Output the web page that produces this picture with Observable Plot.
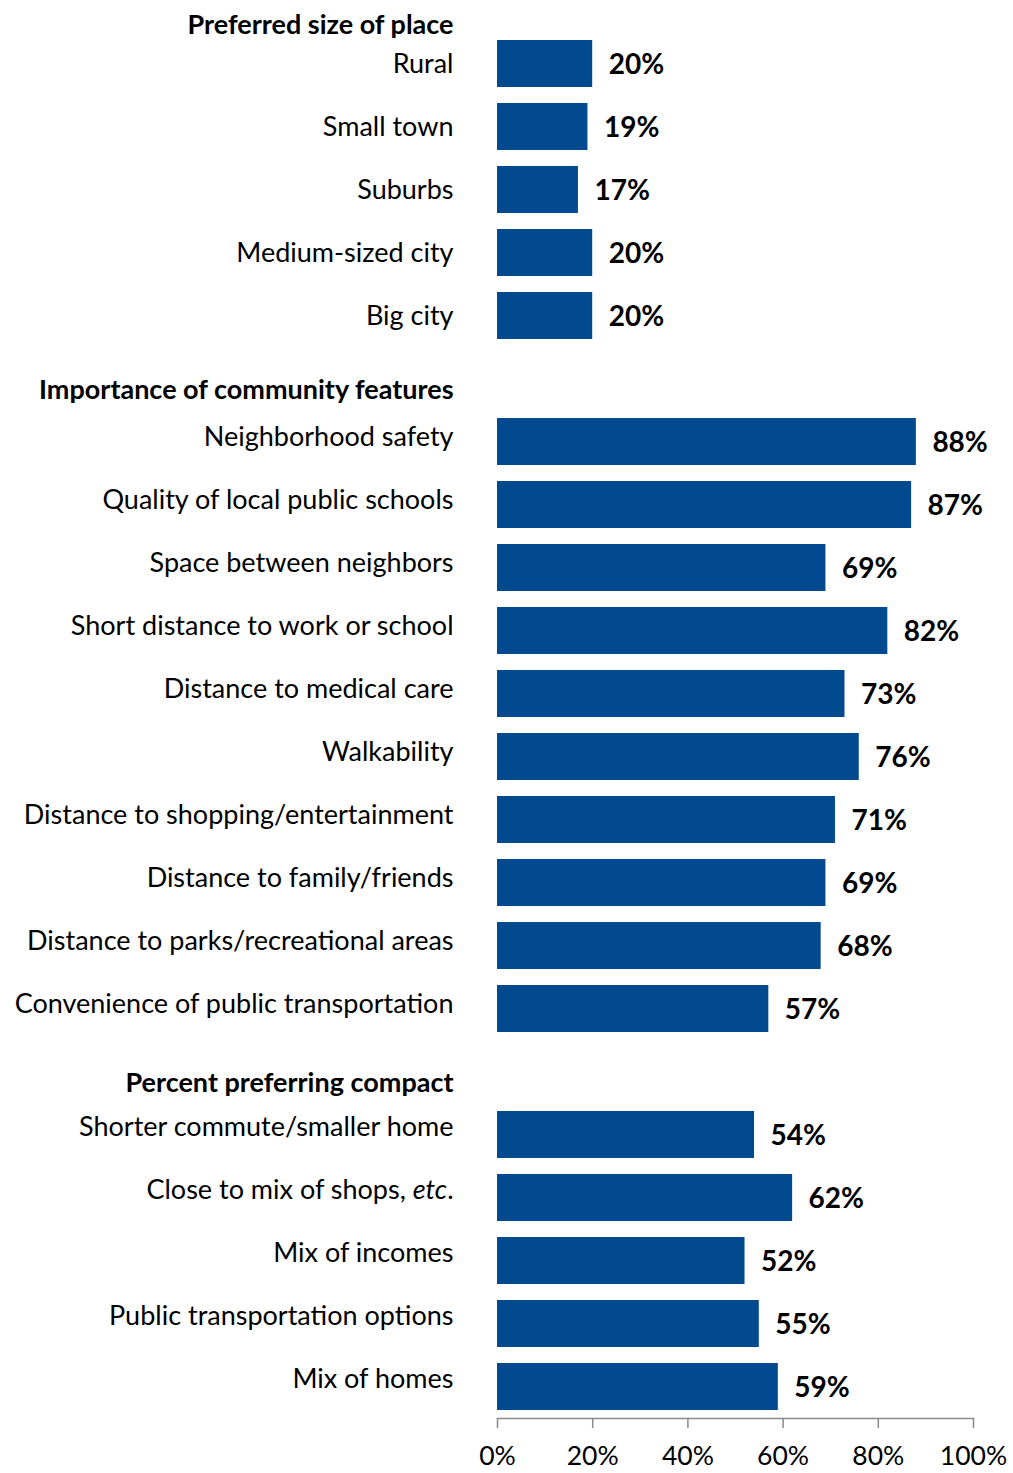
<!DOCTYPE html>
<html><head><meta charset="utf-8">
<script src="https://cdn.jsdelivr.net/npm/d3@7"></script>
<script src="https://cdn.jsdelivr.net/npm/@observablehq/plot@0.6"></script>
<style>body{margin:0;background:#fff}svg{display:block}</style>
</head><body><div id="chart"></div>
<script>
const groupTitles = ["Preferred size of place", "Importance of community features", "Percent preferring compact"];
const placeCategories = ["Rural", "Small town", "Suburbs", "Medium-sized city", "Big city"];
const placeValues = [20, 19, 17, 20, 20];
const featureCategories = ["Neighborhood safety", "Quality of local public schools", "Space between neighbors", "Short distance to work or school", "Distance to medical care", "Walkability", "Distance to shopping/entertainment", "Distance to family/friends", "Distance to parks/recreational areas", "Convenience of public transportation"];
const featureValues = [88, 87, 69, 82, 73, 76, 71, 69, 68, 57];
const compactCategories = ["Shorter commute/smaller home", "Close to mix of shops, etc.", "Mix of incomes", "Public transportation options", "Mix of homes"];
const compactValues = [54, 62, 52, 55, 59];
const xTicks = [0, 20, 40, 60, 80, 100];

const groups = [
  {title: groupTitles[0], cats: placeCategories, vals: placeValues},
  {title: groupTitles[1], cats: featureCategories, vals: featureValues},
  {title: groupTitles[2], cats: compactCategories, vals: compactValues}
];
const rows = groups.flatMap((g, gi) => g.cats.map((c, i) => ({group: gi, category: c, value: g.vals[i]})));
const domain = [];
groups.forEach((g, gi) => { if (gi > 0) domain.push("gap" + gi); domain.push(...g.cats); });
const headers = groups.map((g, gi) => ({group: gi, title: g.title, first: g.cats[0]}));

const FONT = "Lato";
const FS = 27;
const VFS = 28;
const TFS = 26.5;
const labelDy = [0, -4.5, -8];

const marks = [
  Plot.barX(rows, {x: "value", y: "category", fill: "#024A8F"}),
  Plot.text(rows, {x: "value", y: "category", text: d => d.value + "%", textAnchor: "start", dx: 16, dy: 1, fontWeight: "bold", fontSize: VFS, fill: "#000"}),
  ...groups.map((g, gi) => Plot.text(rows.filter(d => d.group === gi), {y: "category", text: "category", frameAnchor: "left", textAnchor: "end", dx: -44, dy: labelDy[gi], fontSize: FS, fill: "#000"})),
  Plot.text(headers.filter(d => d.group === 0), {y: "first", text: "title", frameAnchor: "left", textAnchor: "end", dx: -44, dy: -39, fontSize: FS, fontWeight: "bold", fill: "#000"}),
  Plot.text(headers.filter(d => d.group > 0), {y: "first", text: "title", frameAnchor: "left", textAnchor: "end", dx: -44, dy: -52, fontSize: FS, fontWeight: "bold", fill: "#000"}),
  Plot.frame({anchor: "bottom", stroke: "#8a8a8a", strokeWidth: 1.5}),
  Plot.axisX({ticks: xTicks, tickFormat: d => d + "%", tickSize: 10, tickPadding: 18, stroke: "#8a8a8a", strokeWidth: 1.5, fill: "#000", fontSize: TFS, label: null})
];

const chart = Plot.plot({
  width: 1013,
  height: 1473,
  marginLeft: 497,
  marginRight: 40,
  marginTop: 32,
  marginBottom: 55,
  style: {fontFamily: FONT, fontSize: FS + "px", background: "#fff", color: "#000", overflow: "visible"},
  x: {domain: [0, 100], axis: null},
  y: {domain: domain, paddingInner: 0.254, paddingOuter: 0.127, axis: null},
  marks
});
d3.select(chart).selectAll("text").each(function() {
  const t = this.textContent;
  if (t.endsWith("etc.")) {
    const el = d3.select(this);
    el.text(null);
    el.append("tspan").text(t.slice(0, -4));
    el.append("tspan").attr("font-style", "italic").text("etc");
    el.append("tspan").text(".");
  }
});
document.getElementById("chart").append(chart);
</script>
</body></html>
